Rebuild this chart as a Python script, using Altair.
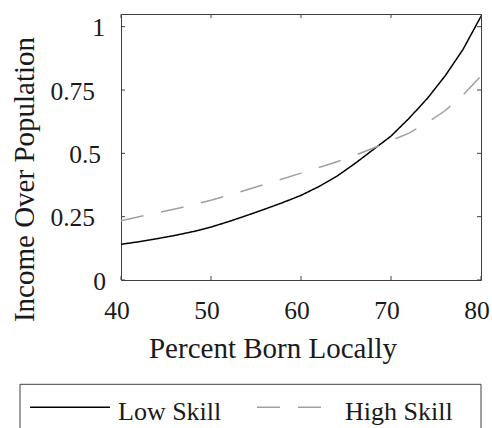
import altair as alt
import pandas as pd

# Share of locally born population (%)
percent_born = [40, 42, 44, 46, 48, 50, 52, 54, 56, 58, 60,
                62, 64, 66, 68, 70, 72, 74, 76, 78, 80]

# Income over population for each skill group
low_skill = [0.141, 0.151, 0.163, 0.176, 0.191, 0.209, 0.231, 0.255, 0.280, 0.306, 0.334,
             0.369, 0.410, 0.460, 0.514, 0.568, 0.638, 0.715, 0.805, 0.910, 1.041]
high_skill = [0.234, 0.250, 0.265, 0.280, 0.297, 0.315, 0.335, 0.356, 0.378, 0.400, 0.422,
              0.444, 0.467, 0.492, 0.520, 0.550, 0.580, 0.620, 0.668, 0.730, 0.805]

series_names = ["Low Skill", "High Skill"]

x_ticks = [40, 50, 60, 70, 80]
y_ticks = [0, 0.25, 0.5, 0.75, 1]
y_tick_labels = ["0", "0.25", "0.5", "0.75", "1"]

FONT = "Liberation Serif"
FRAME = "#404040"
TEXT = "#1a1a1a"
W, H = 360, 266

lines = pd.DataFrame({
    "x": percent_born * 2,
    "y": low_skill + high_skill,
    "series": [series_names[0]] * len(low_skill) + [series_names[1]] * len(high_skill),
})

x_scale = alt.Scale(domain=[40, 80], nice=False, zero=False)
y_scale = alt.Scale(domain=[0, 1.05], nice=False)

label_style = dict(labelFont=FONT, labelFontSize=25.5, labelColor=TEXT,
                   titleFont=FONT, titleFontSize=29, titleColor=TEXT,
                   titleFontWeight="normal")

x_axis = alt.Axis(values=x_ticks, labelExpr="'' + datum.value", title="Percent Born Locally",
                  domain=False, ticks=False, grid=False,
                  labelPadding=18, labelOffset=-4.5, labelFlush=False,
                  labelOverlap=False, labelBound=False,
                  titleX=151.5, titleY=77, titleAlign="center",
                  titleBaseline="alphabetic", **label_style)
# y tick labels are drawn as text marks below, so the axis only carries the title
y_axis = alt.Axis(values=y_ticks, labels=False, title="Income Over Population",
                  domain=False, ticks=False, grid=False,
                  titleX=-87.7, titleY=165, titleAngle=270,
                  titleAlign="center", titleBaseline="alphabetic", **label_style)

X = alt.X("x:Q", scale=x_scale, axis=x_axis)
Y = alt.Y("y:Q", scale=y_scale, axis=y_axis)

curves = alt.Chart(lines).mark_line(strokeWidth=1.5, clip=True).encode(
    x=X, y=Y,
    color=alt.Color("series:N", scale=alt.Scale(domain=series_names,
                                                range=["black", "#a0a0a0"]), legend=None),
    strokeDash=alt.StrokeDash("series:N", scale=alt.Scale(domain=series_names,
                                                          range=[[1, 0], [23, 18]]),
                              legend=None),
)

xt = pd.DataFrame({"x": x_ticks})
yt = pd.DataFrame({"y": y_ticks, "label": y_tick_labels})

# Inward tick marks on all four sides of the frame
tick_style = dict(color=FRAME, strokeWidth=1)
xt_bottom = alt.Chart(xt).mark_rule(**tick_style).encode(
    x=X, y=alt.value(H), y2=alt.value(H - 4))
xt_top = alt.Chart(xt).mark_rule(**tick_style).encode(
    x=X, y=alt.value(0), y2=alt.value(4))
yt_left = alt.Chart(yt).mark_rule(**tick_style).encode(
    y=Y, x=alt.value(0), x2=alt.value(4))
yt_right = alt.Chart(yt).mark_rule(**tick_style).encode(
    y=Y, x=alt.value(W - 4), x2=alt.value(W))

# y tick labels, right-aligned at a per-label distance from the frame
lab_style = dict(font=FONT, fontSize=25.5, align="right", baseline="middle",
                 color=TEXT, dy=1.5)
y_label_groups = [
    ("datum.y > 0.9", -16),
    ("datum.y > 0.7 && datum.y < 0.9", -26),
    ("datum.y > 0.4 && datum.y < 0.6", -20),
    ("datum.y > 0.1 && datum.y < 0.4", -26),
    ("datum.y < 0.1", -15),
]
y_labels = [
    alt.Chart(yt).transform_filter(test).mark_text(**lab_style).encode(
        y=Y, x=alt.value(xpos), text="label:N")
    for test, xpos in y_label_groups
]

# Legend box below the plot
one = pd.DataFrame({"k": [0]})
legend_box = alt.Chart(one).mark_rect(fill=None, stroke=FRAME, strokeWidth=1).encode(
    x=alt.value(-101), x2=alt.value(W), y=alt.value(370.3), y2=alt.value(470))
leg_low = alt.Chart(one).mark_rule(color="black", strokeWidth=1.5).encode(
    x=alt.value(-91), x2=alt.value(-11), y=alt.value(393.3))
leg_high = alt.Chart(one).mark_rule(color="#a0a0a0", strokeWidth=1.5,
                                    strokeDash=[23, 18]).encode(
    x=alt.value(136), x2=alt.value(216), y=alt.value(393.3))
txt_style = dict(font=FONT, fontSize=26, align="left", baseline="alphabetic", color=TEXT)
leg_low_txt = alt.Chart(one).mark_text(**txt_style).encode(
    x=alt.value(-3), y=alt.value(406), text=alt.value(series_names[0]))
leg_high_txt = alt.Chart(one).mark_text(**txt_style).encode(
    x=alt.value(224), y=alt.value(406), text=alt.value(series_names[1]))

chart = alt.layer(
    curves, xt_bottom, xt_top, yt_left, yt_right, *y_labels,
    legend_box, leg_low, leg_high, leg_low_txt, leg_high_txt,
).properties(
    width=W, height=H,
    autosize=alt.AutoSizeParams(type="none"),
    padding={"left": 121, "top": 14, "right": 11, "bottom": 148},
    background="white",
).configure_view(
    stroke=FRAME, strokeWidth=1,
).configure_axis(
    labelFont=FONT, titleFont=FONT,
)

chart.save("out.html", embed_options={"renderer": "svg", "actions": False})
